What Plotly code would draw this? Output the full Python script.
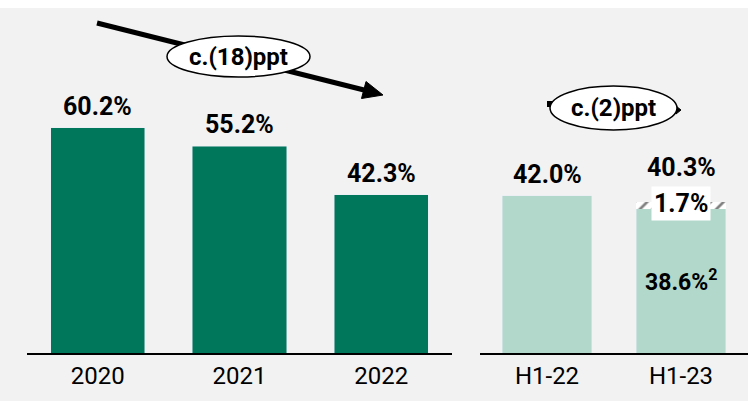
import plotly.graph_objects as go

# ---- data ----
annual_cats = ["2020", "2021", "2022"]
annual_vals = [60.2, 55.2, 42.3]
half_cats = ["H1-22", "H1-23"]
half_base = [42.0, 38.6]
half_extra = [None, 1.7]
half_totals = [42.0, 40.3]
annual_change = "c.(18)ppt"
half_change = "c.(2)ppt"

W, H = 748, 401
BG = "#F2F2F2"
DARK = "#00775A"
LIGHT = "#B2D8CC"
FONT = "Roboto, Liberation Sans, sans-serif"
LBL = 25
TICK = 24


def px(x):
    return x / W


def py(y):
    return 1 - y / H


fig = go.Figure()

fig.add_trace(go.Bar(x=annual_cats, y=annual_vals, marker_color=DARK, width=0.665,
                     xaxis="x", yaxis="y", showlegend=False, hoverinfo="skip"))
fig.add_trace(go.Bar(x=half_cats, y=half_base, marker_color=LIGHT, width=0.67,
                     xaxis="x2", yaxis="y", showlegend=False, hoverinfo="skip"))
fig.add_trace(go.Bar(x=half_cats, y=half_extra, width=0.67,
                     marker=dict(color="white", line=dict(width=0),
                                 pattern=dict(shape="/", fgcolor="black", bgcolor="white",
                                              size=9, solidity=0.3)),
                     xaxis="x2", yaxis="y", showlegend=False, hoverinfo="skip"))

ann = []
for i, v in enumerate(annual_vals):
    ann.append(dict(x=i, y=v, xref="x", yref="y", text=f"<b>{v:.1f}%</b>", showarrow=False,
                    xanchor="center", yanchor="bottom", yshift=5,
                    font=dict(size=LBL, color="black", family=FONT)))
for i, v in enumerate(half_totals):
    ann.append(dict(x=i, y=v, xref="x2", yref="y", text=f"<b>{v:.1f}%</b>", showarrow=False,
                    xanchor="center", yanchor="bottom", yshift=5 if half_extra[i] is None else 18,
                    font=dict(size=LBL, color="black", family=FONT)))
# stacked segment labels for H1-23
ann.append(dict(x=1, y=half_base[1] + half_extra[1] / 2, xref="x2", yref="y",
                text=f"<b>{half_extra[1]:.1f}%</b>", showarrow=False, xanchor="center", yanchor="middle",
                bgcolor="white", borderpad=2, yshift=2, font=dict(size=LBL, color="black", family=FONT)))
ann.append(dict(x=1, y=half_base[1] / 2, xref="x2", yref="y",
                text=f"<b>{half_base[1]:.1f}%<sup>2</sup></b>", showarrow=False,
                xanchor="center", yanchor="middle",
                font=dict(size=23, color="black", family=FONT)))
# change labels
ann.append(dict(x=px(238), y=py(57), xref="paper", yref="paper", text=f"<b>{annual_change}</b>",
                showarrow=False, xanchor="center", yanchor="middle",
                font=dict(size=24, color="black", family=FONT)))
ann.append(dict(x=px(613), y=py(108), xref="paper", yref="paper", text=f"<b>{half_change}</b>",
                showarrow=False, xanchor="center", yanchor="middle",
                font=dict(size=24, color="black", family=FONT)))

shapes = [
    # top white strip
    dict(type="rect", xref="paper", yref="paper", x0=0, x1=1, y0=py(8), y1=1,
         fillcolor="white", line=dict(width=0), layer="above"),
    # arrow shaft
    dict(type="line", xref="paper", yref="paper", x0=px(97), y0=py(23), x1=px(366), y1=py(90.5),
         line=dict(color="black", width=5), layer="above"),
    # arrow head
    dict(type="path", xref="paper", yref="paper",
         path=f"M {px(383)},{py(95)} L {px(361.5)},{py(98.5)} L {px(366)},{py(81.5)} Z",
         fillcolor="black", line=dict(color="black", width=1), layer="above"),
    # ellipse 1
    dict(type="circle", xref="paper", yref="paper", x0=px(167), x1=px(310), y0=py(77), y1=py(36),
         fillcolor="white", line=dict(color="black", width=1.5), layer="above"),
    # small marks around ellipse 2
    dict(type="rect", xref="paper", yref="paper", x0=px(547), x1=px(553), y0=py(107), y1=py(101),
         fillcolor="black", line=dict(width=0), layer="above"),
    dict(type="path", xref="paper", yref="paper",
         path=f"M {px(676)},{py(106)} L {px(681)},{py(110)} L {px(676)},{py(114)} Z",
         fillcolor="black", line=dict(color="black", width=1), layer="above"),
    # ellipse 2
    dict(type="circle", xref="paper", yref="paper", x0=px(550), x1=px(677), y0=py(130), y1=py(86),
         fillcolor="white", line=dict(color="black", width=1.5), layer="above"),
]

axis_common = dict(type="category", showline=True, linecolor="black", linewidth=2,
                   ticks="", showgrid=False, zeroline=False, fixedrange=True,
                   tickfont=dict(size=TICK, color="black", family=FONT), anchor="y")

fig.update_layout(
    width=W, height=H,
    margin=dict(l=0, r=0, t=0, b=0),
    paper_bgcolor=BG, plot_bgcolor=BG,
    barmode="stack",
    xaxis=dict(domain=[px(27), px(452)], range=[-0.5, 2.5], **axis_common),
    xaxis2=dict(domain=[px(480), 1.0], range=[-0.5, 1.5], **axis_common),
    yaxis=dict(domain=[48 / H, 1], range=[0, 353 / 3.743], visible=False, fixedrange=True),
    annotations=ann,
    shapes=shapes,
    showlegend=False,
)

fig.write_html("out.html", config={"displayModeBar": False},
               post_script="document.body.style.margin='0';")
